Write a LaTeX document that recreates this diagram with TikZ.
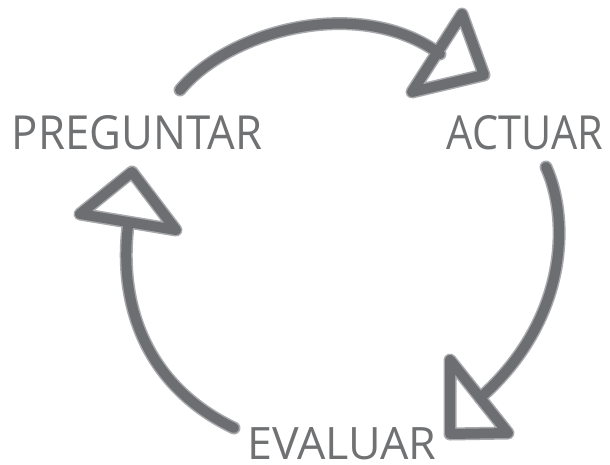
\documentclass[tikz,border=0pt]{standalone}
\usepackage{graphicx}
\usepackage{fontspec}
\setmainfont{Open Sans}
\definecolor{arrowdark}{HTML}{6D6E71}
\definecolor{arrowlight}{HTML}{A7A9AC}
\definecolor{txtgray}{HTML}{707173}
\begin{document}
\begin{tikzpicture}[x=1pt,y=-1pt,
  under/.style={draw=arrowlight,line width=13pt,line cap=round,line join=round},
  over/.style={draw=arrowdark,line width=10pt,line cap=round,line join=round},
  lbl/.style={text=txtgray,inner sep=0pt,anchor=center}]
\useasboundingbox (0,0) rectangle (610,464);
% labels
\node[lbl] (preg) at (137,133) {\resizebox{250pt}{34pt}{PREGUNTAR}};
\node[lbl] (act) at (525,133) {\resizebox{156pt}{34pt}{ACTUAR}};
\node[lbl] (eval) at (342,444) {\resizebox{189pt}{32pt}{EVALUAR}};
% arrow anchor coordinates
\coordinate (a1s) at (180,90);
\coordinate (a1e) at (440,54);
\coordinate (t1a) at (462,14);
\coordinate (t1b) at (412,92);
\coordinate (t1c) at (484,75);
\coordinate (a2s) at (546,167);
\coordinate (a2e) at (480,398);
\coordinate (t2a) at (450,360);
\coordinate (t2b) at (450,434);
\coordinate (t2c) at (508,433);
\coordinate (a3s) at (234,428);
\coordinate (a3e) at (128,226);
\coordinate (t3a) at (132,172);
\coordinate (t3b) at (80,214);
\coordinate (t3c) at (176,230);
% arrow 1: PREGUNTAR -> ACTUAR
\path[under] (a1s) .. controls (230,30) and (360,-5) .. (a1e);
\path[under] (t1a) -- (t1b) -- (t1c) -- cycle;
\path[over] (a1s) .. controls (230,30) and (360,-5) .. (a1e);
\path[over] (t1a) -- (t1b) -- (t1c) -- cycle;
% arrow 2: ACTUAR -> EVALUAR
\path[under] (a2s) .. controls (570,220) and (568,320) .. (a2e);
\path[under] (t2a) -- (t2b) -- (t2c) -- cycle;
\path[over] (a2s) .. controls (570,220) and (568,320) .. (a2e);
\path[over] (t2a) -- (t2b) -- (t2c) -- cycle;
% arrow 3: EVALUAR -> PREGUNTAR
\path[under] (a3s) .. controls (150,388) and (118,310) .. (a3e);
\path[under] (t3a) -- (t3b) -- (t3c) -- cycle;
\path[over] (a3s) .. controls (150,388) and (118,310) .. (a3e);
\path[over] (t3a) -- (t3b) -- (t3c) -- cycle;
\end{tikzpicture}
\end{document}
